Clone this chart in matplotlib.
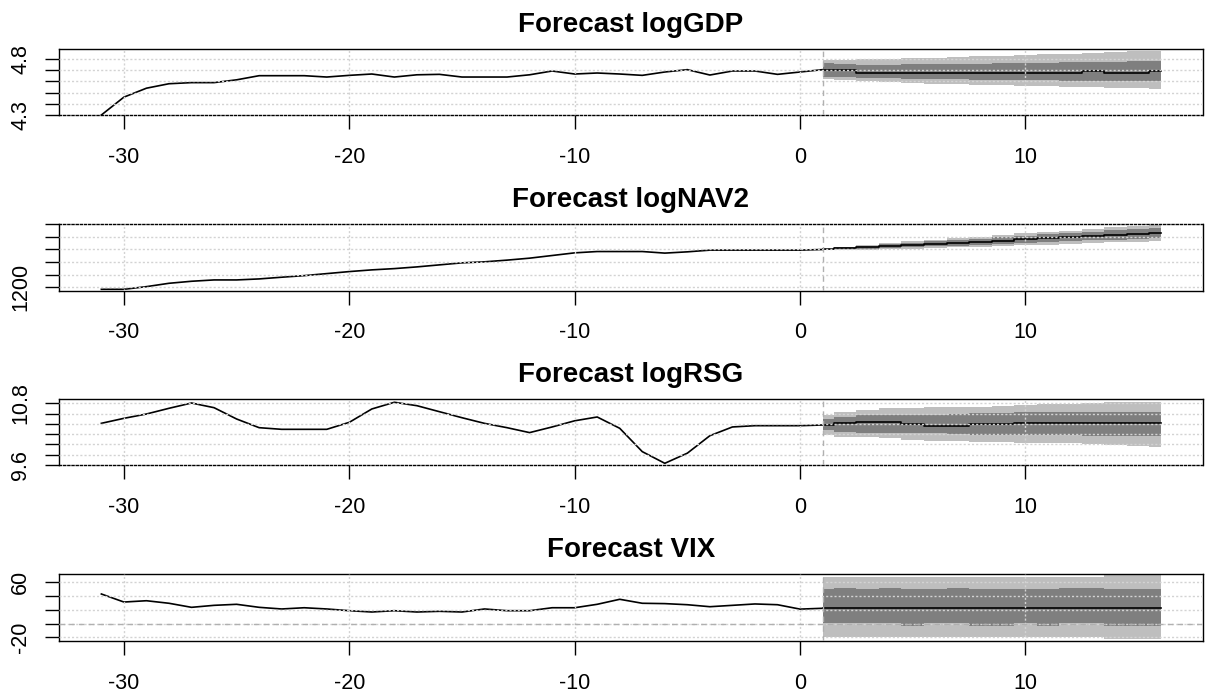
import numpy as np
import matplotlib
matplotlib.use("Agg")
import matplotlib.pyplot as plt

plt.rcParams['font.family'] = ['Liberation Sans', 'DejaVu Sans']

# time axis: history -31..0, forecast 1..16
hist_x = list(range(-31, 1))
fc_x = list(range(1, 17))

titles = ["Forecast logGDP", "Forecast logNAV2", "Forecast logRSG", "Forecast VIX"]

# ---- logGDP
gdp_hist = [4.30, 4.46, 4.54, 4.58, 4.59, 4.59, 4.615, 4.652, 4.652, 4.652, 4.64, 4.655,
            4.667, 4.64, 4.66, 4.664, 4.64, 4.64, 4.64, 4.66, 4.694, 4.667, 4.676, 4.667,
            4.655, 4.685, 4.706, 4.658, 4.694, 4.694, 4.664, 4.685]
gdp_fc = [4.706, 4.700, 4.675, 4.675, 4.675, 4.675, 4.675, 4.675, 4.675, 4.675, 4.675,
          4.675, 4.694, 4.675, 4.675, 4.694]
gdp_lo95 = [4.618, 4.609, 4.600, 4.595, 4.591, 4.582, 4.577, 4.573, 4.568, 4.564, 4.559,
            4.555, 4.550, 4.545, 4.541, 4.536]
gdp_hi95 = [4.791, 4.791, 4.800, 4.800, 4.809, 4.814, 4.818, 4.827, 4.827, 4.836, 4.845,
            4.850, 4.855, 4.864, 4.873, 4.875]
gdp_lo68 = [4.641, 4.636, 4.632, 4.627, 4.623, 4.618, 4.618, 4.614, 4.614, 4.609, 4.609,
            4.605, 4.605, 4.605, 4.603, 4.603]
gdp_hi68 = [4.764, 4.755, 4.750, 4.750, 4.755, 4.755, 4.759, 4.759, 4.764, 4.768, 4.768,
            4.773, 4.773, 4.777, 4.782, 4.782]

# ---- logNAV2
nav_hist = [1168, 1168, 1210, 1263, 1295, 1316, 1316, 1332, 1359, 1384, 1416, 1448,
            1475, 1495, 1522, 1554, 1586, 1602, 1629, 1660, 1702, 1744, 1765, 1765,
            1765, 1740, 1760, 1787, 1787, 1787, 1787, 1787]
nav_fc = [1797, 1815, 1833, 1850, 1868, 1886, 1903, 1921, 1938, 1956, 1974, 1991,
          2009, 2027, 2044, 2062]
nav_lo95 = [1787, 1790, 1795, 1802, 1811, 1821, 1830, 1841, 1851, 1862, 1874, 1885,
            1897, 1909, 1920, 1932]
nav_hi95 = [1807, 1840, 1871, 1898, 1925, 1951, 1976, 2001, 2025, 2050, 2074, 2097,
            2121, 2145, 2168, 2192]
nav_lo68 = [1791, 1800, 1810, 1821, 1833, 1846, 1858, 1872, 1885, 1899, 1913, 1926,
            1940, 1955, 1968, 1982]
nav_hi68 = [1803, 1830, 1856, 1879, 1903, 1926, 1948, 1970, 1991, 2013, 2035, 2056,
            2078, 2099, 2120, 2142]

# ---- logRSG
rsg_hist = [10.411, 10.508, 10.592, 10.703, 10.806, 10.715, 10.495, 10.326, 10.294,
            10.294, 10.294, 10.43, 10.69, 10.82, 10.754, 10.637, 10.52, 10.41, 10.326,
            10.23, 10.34, 10.46, 10.534, 10.314, 9.86, 9.633, 9.83, 10.17, 10.34,
            10.365, 10.365, 10.365]
rsg_fc = [10.378, 10.411, 10.431, 10.431, 10.398, 10.359, 10.359, 10.392, 10.392,
          10.423, 10.423, 10.423, 10.423, 10.423, 10.423, 10.423]
rsg_lo95 = [10.184, 10.151, 10.135, 10.119, 10.096, 10.073, 10.063, 10.053, 10.044,
            10.034, 10.028, 10.022, 10.009, 9.989, 9.970, 9.944]
rsg_hi95 = [10.573, 10.637, 10.670, 10.703, 10.703, 10.719, 10.728, 10.734, 10.748,
            10.767, 10.787, 10.796, 10.806, 10.831, 10.831, 10.831]
rsg_lo68 = [10.281, 10.248, 10.232, 10.217, 10.217, 10.213, 10.203, 10.184, 10.184,
            10.184, 10.178, 10.174, 10.170, 10.170, 10.164, 10.164]
rsg_hi68 = [10.489, 10.540, 10.563, 10.573, 10.573, 10.573, 10.592, 10.606, 10.612,
            10.625, 10.631, 10.631, 10.637, 10.637, 10.637, 10.637]

# ---- VIX
vix_hist = [43, 31.3, 33.2, 29.5, 23.6, 26.5, 28, 23.6, 21.2, 23, 21.2, 18.7, 16.8,
            18.7, 16.8, 17.8, 16.8, 21.2, 18.7, 18.7, 23, 23, 28, 35.3, 29.5, 29,
            27.4, 24.5, 26.5, 28.5, 27.4, 21]
vix_fc = [22.2, 22.2, 22.2, 22.2, 22.2, 22.2, 22.2, 22.2, 22.2, 22.2, 22.2, 22.2,
          22.2, 22.2, 22.2, 22.2]
vix_lo95 = [-20, -20, -20, -20, -20, -20, -20, -20, -20, -20, -20, -20, -20, -23, -23, -23]
vix_hi95 = [68.2, 68.2, 68.2, 68.2, 68.2, 68.2, 68.2, 68.2, 68.2, 68.2, 68.2, 68.2,
            68.2, 70.6, 70.6, 70.6]
vix_lo68 = [0.4, 0.4, 0.4, 0.4, -3.6, 0.4, 0.4, -3.6, -3.6, 0.4, -3.6, 0.4, 0.4,
            -3.6, -3.6, -3.6]
vix_hi68 = [50.3, 51.3, 50.3, 51.3, 50.3, 50.3, 51.3, 50.3, 50.3, 50.3, 50.3, 51.3,
            51.3, 50.3, 50.3, 50.3]

hist = [gdp_hist, nav_hist, rsg_hist, vix_hist]
fc = [gdp_fc, nav_fc, rsg_fc, vix_fc]
lo95 = [gdp_lo95, nav_lo95, rsg_lo95, vix_lo95]
hi95 = [gdp_hi95, nav_hi95, rsg_hi95, vix_hi95]
lo68 = [gdp_lo68, nav_lo68, rsg_lo68, vix_lo68]
hi68 = [gdp_hi68, nav_hi68, rsg_hi68, vix_hi68]

yticks = [[4.3, 4.4, 4.5, 4.6, 4.7, 4.8],
          [1200, 1400, 1600, 1800, 2000, 2200],
          [9.6, 9.8, 10.0, 10.2, 10.4, 10.6, 10.8],
          [-20, 0, 20, 40, 60]]
ylabels = [["4.3", "", "", "", "", "4.8"],
           ["1200", "", "", "", "", ""],
           ["9.6", "", "", "", "", "", "10.8"],
           ["-20", "", "", "", "60"]]
ylims = [(4.3, 4.891), (1149, 2200), (9.6, 10.884), (-25.4, 72.1)]
# which spine sits on a grid line (looks dotted in the original)
dotted_edge = ['bottom', 'top', 'bottom', None]
xticks = [-30, -20, -10, 0, 10]

W, H = 1211, 695
fig = plt.figure(figsize=(W / 100, H / 100), dpi=100)

tops = [49, 224, 399, 574]
bottoms = [115, 290.5, 465, 641]
left, right = 59, 1203

light = '#BEBEBE'
dark = '#7F7F7F'
gridc = '#D3D3D3'
dots = (0, (1.5, 1.5))

for i in range(4):
    ax = fig.add_axes([left / W, 1 - bottoms[i] / H, (right - left) / W,
                       (bottoms[i] - tops[i]) / H])
    ax.fill_between(fc_x, lo95[i], hi95[i], step='mid', color=light, lw=0, zorder=1)
    ax.fill_between(fc_x, lo68[i], hi68[i], step='mid', color=dark, lw=0, zorder=1.1)
    ax.plot(hist_x + [1], hist[i] + [fc[i][0]], color='black', lw=1.2, zorder=2)
    ax.plot(fc_x, fc[i], color='black', lw=1.2, drawstyle='steps-mid', zorder=2)

    ax.set_xlim(-32.88, 17.88)
    ax.set_ylim(*ylims[i])
    ax.set_xticks(xticks)
    ax.set_xticklabels([str(t) for t in xticks])
    ax.set_yticks(yticks[i])
    ax.set_yticklabels(ylabels[i], rotation=90, va='center')
    ax.tick_params(axis='both', length=10, width=1, labelsize=15.5)
    ax.tick_params(axis='x', pad=13)
    ax.tick_params(axis='y', pad=10)
    for s in ax.spines.values():
        s.set_linewidth(1)
    if dotted_edge[i]:
        ax.spines[dotted_edge[i]].set_linestyle(dots)

    # R grid(): light gray dotted lines on top of everything
    for t in xticks:
        ax.axvline(t, color=gridc, lw=1, ls=dots, zorder=3)
    for t in yticks[i]:
        if ylims[i][0] < t < ylims[i][1] - 1e-9:
            ax.axhline(t, color=gridc, lw=1, ls=dots, zorder=3)
    ax.axvline(1, color='#B0B0B0', lw=1, ls=(0, (4, 3)), zorder=3)
    if i == 3:
        ax.axhline(0, color='#B0B0B0', lw=1, ls=(0, (4, 3)), zorder=3.1)

    ax.set_title(titles[i], fontsize=20, fontweight='bold', pad=12)

fig.savefig("out.png", dpi=100)
